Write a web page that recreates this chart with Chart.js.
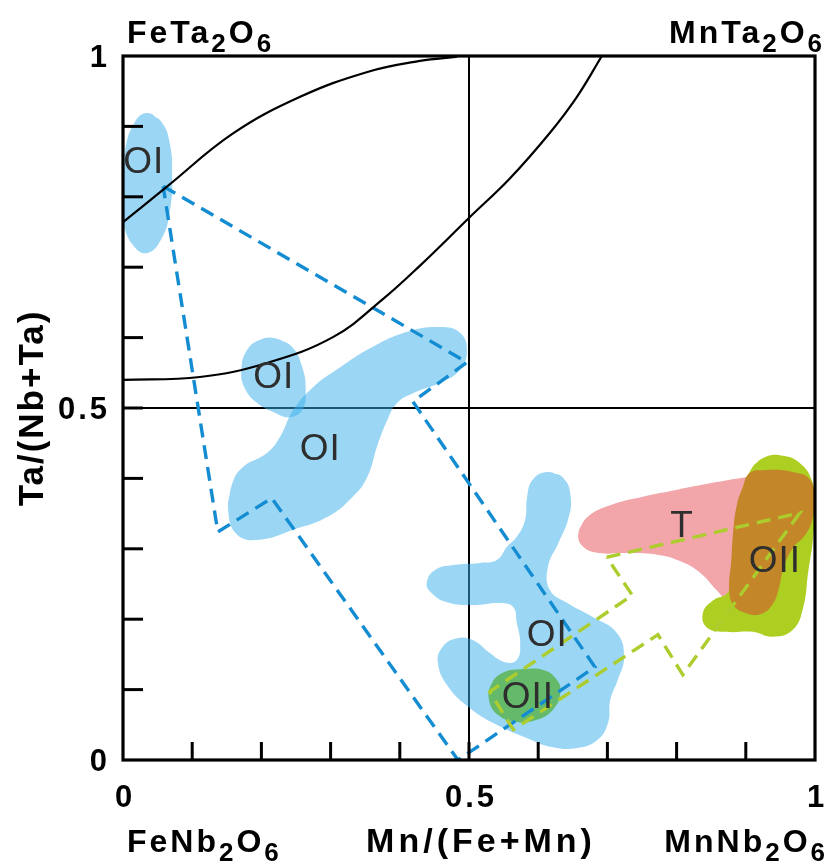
<!DOCTYPE html>
<html lang="en">
<head>
    <meta charset="UTF-8">
    <title>Mn/(Fe+Mn) vs Ta/(Nb+Ta)</title>
    <style>
        html, body {
            margin: 0;
            padding: 0;
            background: #fff;
        }
        .chart-box {
            width: 826px;
            height: 863px;
            position: relative;
        }
    </style>
</head>
<body>
    <div class="chart-box">
        <canvas id="quadChart"></canvas>
    </div>

    <script src="https://cdn.jsdelivr.net/npm/chart.js"></script>
    <script>
        // Axis labels (Mn/(Fe+Mn) on x, Ta/(Nb+Ta) on y)
        const xTickLabels = [0, 0.5, 1];
        const yTickLabels = [0, 0.5, 1];
        const minorStep = 0.1;

        // Boundary curves
        const curveUpper = [[0, 0.764], [0.063, 0.814], [0.159, 0.890], [0.256, 0.942], [0.352, 0.977], [0.429, 0.993], [0.483, 0.999]];
        const curveLower = [[0, 0.540], [0.111, 0.544], [0.208, 0.564], [0.304, 0.601], [0.376, 0.655], [0.430, 0.703],
            [0.501, 0.771], [0.559, 0.826], [0.617, 0.891], [0.656, 0.942], [0.692, 1.0]];

        // Dashed trend fields
        const fieldOI = [[0.058, 0.815], [0.497, 0.565], [0.419, 0.509], [0.682, 0.132], [0.484, 0.0], [0.215, 0.372], [0.137, 0.324]];
        const fieldOII = [[0.699, 0.288], [0.978, 0.351], [0.809, 0.121], [0.773, 0.178], [0.564, 0.043], [0.530, 0.097], [0.736, 0.234]];

        // Sample areas (outlines)
        const blobOI1 = [[0.035, 0.919], [0.056, 0.906], [0.068, 0.874], [0.071, 0.831], [0.068, 0.781], [0.056, 0.741],
            [0.035, 0.720], [0.014, 0.732], [0.001, 0.764], [0.0, 0.810], [0.003, 0.866], [0.017, 0.906]];
        const blobOI2 = [[0.220, 0.599], [0.244, 0.587], [0.259, 0.558], [0.264, 0.526], [0.259, 0.497], [0.241, 0.487],
            [0.220, 0.493], [0.194, 0.507], [0.176, 0.528], [0.171, 0.554], [0.179, 0.582], [0.198, 0.597]];
        const blobOI3 = [[0.152, 0.355], [0.158, 0.393], [0.173, 0.416], [0.208, 0.436], [0.227, 0.459], [0.246, 0.497],
            [0.275, 0.530], [0.314, 0.558], [0.361, 0.587], [0.410, 0.608], [0.458, 0.615], [0.487, 0.607], [0.497, 0.582],
            [0.487, 0.554], [0.458, 0.536], [0.419, 0.521], [0.396, 0.507], [0.382, 0.483], [0.367, 0.445], [0.353, 0.402],
            [0.332, 0.374], [0.295, 0.345], [0.246, 0.327], [0.198, 0.313], [0.165, 0.320]];
        const blobOI4 = [[0.613, 0.409], [0.636, 0.401], [0.647, 0.374], [0.643, 0.341], [0.629, 0.308], [0.614, 0.274],
            [0.617, 0.241], [0.642, 0.223], [0.679, 0.203], [0.714, 0.180], [0.724, 0.146], [0.715, 0.114], [0.704, 0.085],
            [0.701, 0.053], [0.685, 0.028], [0.656, 0.017], [0.621, 0.018], [0.584, 0.031], [0.540, 0.050], [0.501, 0.074],
            [0.470, 0.104], [0.455, 0.138], [0.462, 0.161], [0.483, 0.173], [0.506, 0.170], [0.530, 0.152], [0.552, 0.139],
            [0.569, 0.142], [0.574, 0.166], [0.569, 0.195], [0.564, 0.217], [0.545, 0.223], [0.506, 0.220], [0.468, 0.224],
            [0.444, 0.239], [0.439, 0.253], [0.451, 0.270], [0.477, 0.277], [0.516, 0.280], [0.540, 0.284], [0.555, 0.303],
            [0.569, 0.317], [0.581, 0.341], [0.584, 0.374], [0.592, 0.398]];
        const blobOII1 = [[0.574, 0.129], [0.607, 0.128], [0.627, 0.114], [0.632, 0.095], [0.621, 0.071], [0.598, 0.057],
            [0.569, 0.054], [0.542, 0.064], [0.529, 0.085], [0.533, 0.109], [0.549, 0.124]];
        const blobT = [[0.658, 0.322], [0.671, 0.345], [0.704, 0.362], [0.751, 0.374], [0.801, 0.384], [0.848, 0.393],
            [0.902, 0.402], [0.945, 0.408], [0.978, 0.405], [0.995, 0.384], [0.993, 0.330], [0.970, 0.280], [0.945, 0.230],
            [0.916, 0.210], [0.882, 0.217], [0.858, 0.241], [0.834, 0.266], [0.809, 0.281], [0.776, 0.291], [0.728, 0.294],
            [0.689, 0.294], [0.665, 0.303]];
        const blobOII2 = [[0.909, 0.415], [0.925, 0.429], [0.949, 0.433], [0.978, 0.422], [0.997, 0.393], [1.0, 0.359],
            [0.997, 0.313], [0.990, 0.266], [0.983, 0.217], [0.968, 0.185], [0.939, 0.175], [0.910, 0.182], [0.873, 0.182],
            [0.844, 0.188], [0.838, 0.209], [0.853, 0.227], [0.873, 0.237], [0.880, 0.256], [0.882, 0.288], [0.884, 0.337],
            [0.892, 0.374]];
        const blobOverlap = [[0.906, 0.408], [0.931, 0.412], [0.968, 0.409], [0.993, 0.398], [0.999, 0.369], [0.996, 0.341],
            [0.986, 0.320], [0.968, 0.301], [0.955, 0.274], [0.947, 0.241], [0.938, 0.220], [0.921, 0.207], [0.899, 0.209],
            [0.882, 0.220], [0.876, 0.241], [0.879, 0.284], [0.882, 0.327], [0.887, 0.362], [0.895, 0.386]];

        // Area labels
        const areaNames = ['OI', 'OI', 'OI', 'OI', 'OII', 'T', 'OII'];
        const areaX = [0.030, 0.218, 0.285, 0.613, 0.585, 0.808, 0.942];
        const areaY = [0.849, 0.543, 0.440, 0.176, 0.088, 0.331, 0.281];

        // End-member names: [text, isSubscript]
        const endFeTa = [['FeTa', 0], ['2', 1], ['O', 0], ['6', 1]];
        const endMnTa = [['MnTa', 0], ['2', 1], ['O', 0], ['6', 1]];
        const endFeNb = [['FeNb', 0], ['2', 1], ['O', 0], ['6', 1]];
        const endMnNb = [['MnNb', 0], ['2', 1], ['O', 0], ['6', 1]];

        const toPoints = arr => arr.map(p => ({ x: p[0], y: p[1] }));
        // repeat the first two points so the smooth outline closes without a kink
        const closedSmooth = arr => toPoints(arr.concat([arr[0], arr[1]]));
        const closedSharp = arr => toPoints(arr.concat([arr[0]]));

        function blob(label, pts, color, order) {
            return {
                label: label,
                data: closedSmooth(pts),
                backgroundColor: color,
                borderColor: 'transparent',
                borderWidth: 0,
                pointRadius: 0,
                fill: 'shape',
                tension: 0.45,
                order: order
            };
        }

        function dashed(label, pts, color, order) {
            return {
                label: label,
                data: closedSharp(pts),
                borderColor: color,
                borderWidth: 3.4,
                borderDash: [14, 8],
                pointRadius: 0,
                fill: false,
                tension: 0,
                order: order
            };
        }

        function curve(label, pts) {
            return {
                label: label,
                data: toPoints(pts),
                borderColor: '#000',
                borderWidth: 2.2,
                pointRadius: 0,
                fill: false,
                tension: 0.4,
                order: 2
            };
        }

        const BOLD = '"Liberation Sans", Arial, sans-serif';

        function drawFormula(ctx, parts, x, baseline, align) {
            const big = 'bold 32px ' + BOLD;
            const small = 'bold 26px ' + BOLD;
            ctx.letterSpacing = '3px';
            const widths = parts.map(p => {
                ctx.font = p[1] ? small : big;
                return ctx.measureText(p[0]).width;
            });
            const total = widths.reduce((s, w) => s + w, 0);
            let cx = align === 'right' ? x - total : x;
            ctx.textAlign = 'left';
            ctx.textBaseline = 'alphabetic';
            parts.forEach((p, i) => {
                ctx.font = p[1] ? small : big;
                ctx.fillText(p[0], cx, baseline + (p[1] ? 9 : 0));
                cx += widths[i];
            });
        }

        const framePlugin = {
            id: 'quadFrame',
            afterDraw(chart) {
                const { ctx, chartArea: a, scales: { x, y } } = chart;
                ctx.save();
                ctx.strokeStyle = '#000';
                ctx.lineCap = 'butt';

                // inner tick marks
                ctx.lineWidth = 3;
                x.ticks.forEach(t => {
                    if (t.value <= 0 || t.value >= 1) return;
                    const px = x.getPixelForValue(t.value);
                    ctx.beginPath();
                    ctx.moveTo(px, a.bottom);
                    ctx.lineTo(px, a.bottom - 18);
                    ctx.stroke();
                });
                y.ticks.forEach(t => {
                    if (t.value <= 0 || t.value >= 1) return;
                    const py = y.getPixelForValue(t.value);
                    ctx.beginPath();
                    ctx.moveTo(a.left, py);
                    ctx.lineTo(a.left + 20, py);
                    ctx.stroke();
                });

                // frame
                ctx.lineWidth = 3.2;
                ctx.strokeRect(a.left, a.top, a.right - a.left, a.bottom - a.top);

                ctx.fillStyle = '#000';
                // tick labels
                ctx.font = 'bold 31px ' + BOLD;
                ctx.letterSpacing = '3px';
                ctx.textAlign = 'right';
                ctx.textBaseline = 'middle';
                yTickLabels.forEach(v => {
                    ctx.fillText(String(v), a.left - 13, y.getPixelForValue(v) + 2);
                });
                ctx.textAlign = 'center';
                xTickLabels.forEach(v => {
                    ctx.fillText(String(v), x.getPixelForValue(v) + 2, a.bottom + 38);
                });

                // axis titles
                ctx.font = 'bold 34px ' + BOLD;
                ctx.letterSpacing = '4px';
                ctx.textAlign = 'center';
                ctx.textBaseline = 'alphabetic';
                ctx.fillText('Mn/(Fe+Mn)', x.getPixelForValue(0.5) + 12, a.bottom + 92);

                ctx.save();
                ctx.translate(a.left - 74, y.getPixelForValue(0.5));
                ctx.rotate(-Math.PI / 2);
                ctx.font = 'bold 35px ' + BOLD;
                ctx.letterSpacing = '2px';
                ctx.textBaseline = 'middle';
                ctx.fillText('Ta/(Nb+Ta)', 0, -16);
                ctx.restore();

                // end members at the corners
                drawFormula(ctx, endFeTa, a.left + 4, a.top - 13, 'left');
                drawFormula(ctx, endMnTa, a.right + 10, a.top - 13, 'right');
                drawFormula(ctx, endFeNb, a.left + 4, a.bottom + 92, 'left');
                drawFormula(ctx, endMnNb, a.right + 13, a.bottom + 92, 'right');

                // area labels
                ctx.fillStyle = '#2e2e2e';
                ctx.font = '37px ' + BOLD;
                ctx.letterSpacing = '1px';
                ctx.textAlign = 'center';
                ctx.textBaseline = 'middle';
                areaNames.forEach((name, i) => {
                    ctx.fillText(name, x.getPixelForValue(areaX[i]), y.getPixelForValue(areaY[i]));
                });
                ctx.restore();
            }
        };

        const blue = 'rgba(55, 175, 235, 0.5)';
        const midLine = c => Math.abs(c.tick.value - 0.5) < 1e-6 ? '#000' : 'rgba(0,0,0,0)';

        const ctx = document.getElementById('quadChart').getContext('2d');
        const quadChart = new Chart(ctx, {
            type: 'line',
            data: {
                datasets: [
                    blob('OI field 1', blobOI1, blue, 30),
                    blob('OI field 2', blobOI2, blue, 30),
                    blob('OI field 3', blobOI3, blue, 30),
                    blob('OI field 4', blobOI4, blue, 30),
                    blob('T', blobT, 'rgb(243, 166, 170)', 28),
                    blob('OII field 2', blobOII2, 'rgb(172, 207, 34)', 27),
                    blob('T + OII', blobOverlap, 'rgb(195, 134, 40)', 26),
                    blob('OII field 1', blobOII1, 'rgb(100, 186, 106)', 25),
                    dashed('OI trend', fieldOI, 'rgb(20, 140, 210)', 10),
                    dashed('OII trend', fieldOII, 'rgb(172, 205, 45)', 9),
                    curve('upper boundary', curveUpper),
                    curve('lower boundary', curveLower)
                ]
            },
            options: {
                responsive: true,
                maintainAspectRatio: false,
                animation: false,
                layout: {
                    padding: { left: 123, right: 11, top: 56, bottom: 103 }
                },
                plugins: {
                    legend: { display: false },
                    tooltip: { enabled: false }
                },
                scales: {
                    x: {
                        type: 'linear',
                        min: 0,
                        max: 1,
                        z: 1,
                        border: { display: false },
                        ticks: { display: false, stepSize: minorStep },
                        grid: { drawTicks: false, color: midLine, lineWidth: 2 }
                    },
                    y: {
                        type: 'linear',
                        min: 0,
                        max: 1,
                        z: 1,
                        border: { display: false },
                        ticks: { display: false, stepSize: minorStep },
                        grid: { drawTicks: false, color: midLine, lineWidth: 2 }
                    }
                }
            },
            plugins: [framePlugin]
        });
    </script>
</body>
</html>
